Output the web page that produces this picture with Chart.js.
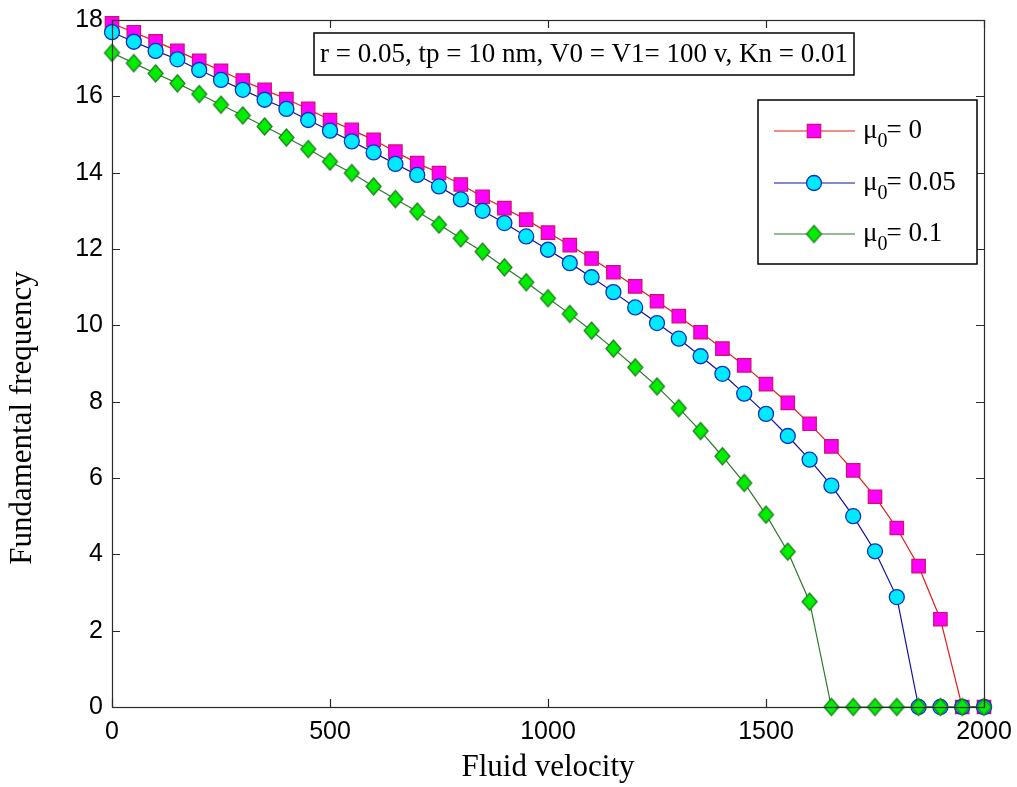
<!DOCTYPE html>
<html>
<head>
<meta charset="utf-8">
<script src="https://cdn.jsdelivr.net/npm/chart.js@4/dist/chart.umd.min.js"></script>
<style>
html,body{margin:0;padding:0;background:#fff;}
#wrap{width:1017px;height:787px;position:relative;}
</style>
</head>
<body>
<div id="wrap"><canvas id="c" width="1017" height="787"></canvas></div>
<script>
const velocity = [0,50,100,150,200,250,300,350,400,450,500,550,600,650,700,750,800,850,900,950,1000,1050,1100,1150,1200,1250,1300,1350,1400,1450,1500,1550,1600,1650,1700,1750,1800,1850,1900,1950,2000];
const freqMu0 = [17.91,17.68,17.44,17.19,16.93,16.67,16.41,16.17,15.93,15.67,15.38,15.12,14.86,14.55,14.25,13.99,13.69,13.37,13.07,12.77,12.43,12.1,11.75,11.39,11.02,10.63,10.24,9.82,9.39,8.95,8.46,7.97,7.42,6.83,6.2,5.51,4.69,3.69,2.3,0,0];
const freqMu005 = [17.68,17.43,17.19,16.97,16.69,16.43,16.17,15.91,15.67,15.38,15.1,14.82,14.53,14.23,13.94,13.64,13.3,13.0,12.68,12.33,11.98,11.63,11.26,10.87,10.47,10.06,9.65,9.19,8.73,8.21,7.68,7.1,6.48,5.8,5.0,4.08,2.88,0,0,0,0];
const freqMu01 = [17.14,16.87,16.6,16.34,16.06,15.78,15.5,15.21,14.92,14.62,14.29,13.99,13.64,13.31,12.98,12.64,12.28,11.93,11.52,11.13,10.71,10.3,9.86,9.39,8.9,8.4,7.83,7.23,6.57,5.87,5.04,4.07,2.76,0,0,0,0,0,0,0,0];
const muValues = ['0','0.05','0.1'];
const xTicks = [0,500,1000,1500,2000];
const yTicks = [0,2,4,6,8,10,12,14,16,18];
const annotationText = 'r = 0.05, tp = 10 nm, V0 = V1= 100 v, Kn = 0.01';
const xTitle = 'Fluid velocity';
const yTitle = 'Fundamental frequency';

function pts(arr){ return velocity.map((v,i)=>({x:v,y:arr[i]})); }

const serif = '"Liberation Serif","Times New Roman",serif';
const sans = '"Liberation Sans",Arial,sans-serif';

// diamond marker (slightly taller than wide)
function makeDiamond(w,h,fill,stroke,lw){
  const c = document.createElement('canvas');
  c.width = w+4; c.height = h+4;
  const g = c.getContext('2d');
  const cx = c.width/2, cy = c.height/2;
  g.beginPath();
  g.moveTo(cx,cy-h/2); g.lineTo(cx+w/2,cy); g.lineTo(cx,cy+h/2); g.lineTo(cx-w/2,cy); g.closePath();
  g.fillStyle = fill; g.fill();
  g.strokeStyle = stroke; g.lineWidth = lw; g.stroke();
  return c;
}
const diamondImg = makeDiamond(15,17,'#00ee00','#1a7a1a',1.2);

function drawMarker(ctx, ds, x, y){
  ctx.save();
  if(ds.pointStyle === diamondImg){
    ctx.drawImage(diamondImg, x-diamondImg.width/2, y-diamondImg.height/2);
  } else {
    ctx.fillStyle = ds.pointBackgroundColor;
    ctx.strokeStyle = ds.pointBorderColor;
    ctx.lineWidth = ds.pointBorderWidth;
    ctx.beginPath();
    const r = ds.pointRadius;
    if(ds.pointStyle==='rect'){ const s=Math.SQRT1_2*r; ctx.rect(x-s,y-s,2*s,2*s); }
    else { ctx.arc(x,y,r,0,Math.PI*2); }
    ctx.fill(); ctx.stroke();
  }
  ctx.restore();
}

const frame = {
  id:'frame',
  afterDatasetsDraw(chart){
    const {ctx, chartArea:a, scales} = chart;
    ctx.save();
    ctx.strokeStyle = '#2a2a2a';
    ctx.lineWidth = 1.2;
    ctx.strokeRect(a.left+0.5, a.top+0.5, a.right-a.left, a.bottom-a.top);
    ctx.beginPath();
    const tl = 8;
    xTicks.forEach(t=>{
      const px = Math.round(scales.x.getPixelForValue(t))+0.5;
      ctx.moveTo(px,a.bottom); ctx.lineTo(px,a.bottom-tl);
      ctx.moveTo(px,a.top); ctx.lineTo(px,a.top+tl);
    });
    yTicks.forEach(t=>{
      const py = Math.round(scales.y.getPixelForValue(t))+0.5;
      ctx.moveTo(a.left,py); ctx.lineTo(a.left+tl,py);
      ctx.moveTo(a.right,py); ctx.lineTo(a.right-tl,py);
    });
    ctx.stroke();
    ctx.restore();
  },
  afterDraw(chart){
    const {ctx} = chart;
    ctx.save();
    // y axis title
    ctx.save();
    ctx.translate(23, 418);
    ctx.rotate(-Math.PI/2);
    ctx.font = '31px ' + serif;
    ctx.fillStyle = '#000';
    ctx.textAlign = 'center';
    ctx.textBaseline = 'middle';
    ctx.fillText(yTitle, 0, 0);
    ctx.restore();
    // annotation box
    const bx = 314, by = 33, bw = 540, bh = 42;
    ctx.fillStyle = '#fff';
    ctx.fillRect(bx,by,bw,bh);
    ctx.strokeStyle = '#000';
    ctx.lineWidth = 1.5;
    ctx.strokeRect(bx,by,bw,bh);
    ctx.font = '27px ' + serif;
    ctx.fillStyle = '#000';
    ctx.textBaseline = 'middle';
    ctx.textAlign = 'center';
    ctx.fillText(annotationText, bx+bw/2, by+bh/2+1);
    // legend
    const lx = 758, ly = 100, lw = 219, lh = 164;
    ctx.fillStyle = '#fff';
    ctx.fillRect(lx,ly,lw,lh);
    ctx.lineWidth = 1.5;
    ctx.strokeStyle = '#000';
    ctx.strokeRect(lx,ly,lw,lh);
    const rows = [131,183,234];
    chart.data.datasets.forEach((ds,i)=>{
      const y = rows[i];
      ctx.strokeStyle = ds.borderColor;
      ctx.lineWidth = ds.borderWidth;
      ctx.beginPath(); ctx.moveTo(774,y); ctx.lineTo(855,y); ctx.stroke();
      drawMarker(ctx, ds, 814, y);
      ctx.fillStyle = '#000';
      ctx.textAlign = 'left';
      ctx.textBaseline = 'alphabetic';
      ctx.font = '27px ' + serif;
      ctx.fillText('\u03bc', 863, y+7);
      const w1 = ctx.measureText('\u03bc').width;
      ctx.font = '20px ' + serif;
      ctx.fillText('0', 863+w1, y+16);
      const w2 = ctx.measureText('0').width;
      ctx.font = '27px ' + serif;
      ctx.fillText('= ' + muValues[i], 863+w1+w2-1, y+7);
    });
    ctx.restore();
  }
};

new Chart(document.getElementById('c'),{
  type:'line',
  data:{
    datasets:[
      {label:'\u03bc\u2080= '+muValues[0], data:pts(freqMu0), borderColor:'#e41a1a', borderWidth:1.2,
       pointStyle:'rect', pointRadius:9.5, pointBackgroundColor:'#ff00ff', pointBorderColor:'#d0106a', pointBorderWidth:1.2, clip:false, order:3},
      {label:'\u03bc\u2080= '+muValues[1], data:pts(freqMu005), borderColor:'#1010a0', borderWidth:1.2,
       pointStyle:'circle', pointRadius:7.5, pointBackgroundColor:'#00eaff', pointBorderColor:'#1030c0', pointBorderWidth:1.3, clip:false, order:2},
      {label:'\u03bc\u2080= '+muValues[2], data:pts(freqMu01), borderColor:'#2a7a2a', borderWidth:1.2,
       pointStyle:diamondImg, pointRadius:8, pointBackgroundColor:'#00ee00', pointBorderColor:'#1a7a1a', pointBorderWidth:1.2, clip:false, order:1}
    ]
  },
  options:{
    responsive:false,
    animation:false,
    events:[],
    layout:{padding:{top:20,right:33,left:0,bottom:0}},
    plugins:{legend:{display:false},tooltip:{enabled:false}},
    scales:{
      x:{type:'linear',min:0,max:2000,
         afterBuildTicks(s){ s.ticks = xTicks.map(v=>({value:v})); },
         afterFit(s){ s.height = 80; s.paddingLeft = 0; s.paddingRight = 0; },
         grid:{display:false,drawTicks:false},
         border:{display:false},
         ticks:{color:'#000',font:{family:sans,size:25},padding:10,maxRotation:0,autoSkip:false,callback:v=>String(v)},
         title:{display:true,text:xTitle,color:'#000',font:{family:serif,size:31},padding:{top:0,bottom:1}}
      },
      y:{type:'linear',min:0,max:18,
         afterBuildTicks(s){ s.ticks = yTicks.map(v=>({value:v})); },
         afterFit(s){ s.width = 112; s.paddingTop = 0; s.paddingBottom = 0; },
         grid:{display:false,drawTicks:false},
         border:{display:false},
         ticks:{color:'#000',font:{family:sans,size:25},padding:9,autoSkip:false,callback:v=>String(v)},
         title:{display:false}
      }
    }
  },
  plugins:[frame]
});
</script>
</body>
</html>
